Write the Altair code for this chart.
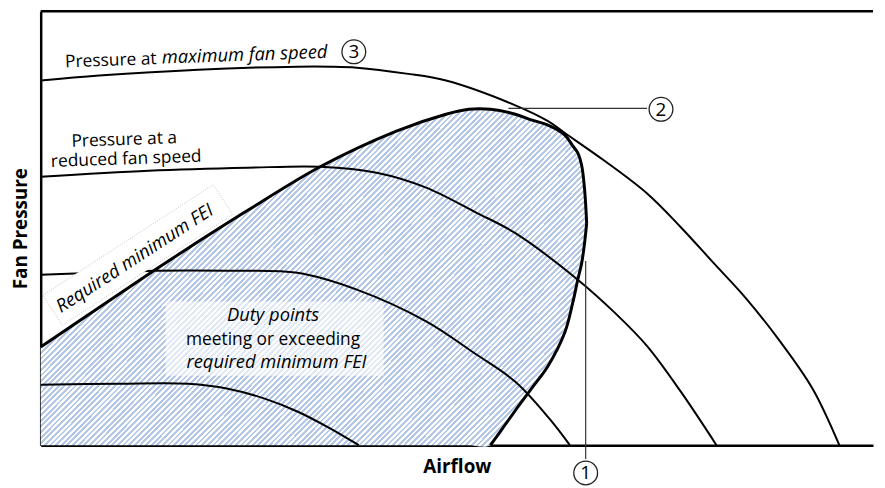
import math
import altair as alt
import pandas as pd

# ---------------- data (plot units: 1 unit = 1 px of the plot area) ----------------
# Fan curves
max_x = [0, 59, 159, 259, 292, 319, 369, 409, 479, 512, 529, 569, 612, 646, 679, 712, 746, 779, 806]
max_y = [368, 373, 379, 382, 382, 381, 375, 368, 343, 327, 315, 287, 254, 220, 184, 148, 105, 57, 0]

red_x = [0, 109, 209, 282, 339, 389, 439, 479, 542, 579, 612, 646, 682]
red_y = [271, 277, 280, 281, 275, 260, 235, 214, 167, 134, 100, 54, 0]

low_x = [0, 59, 114, 189, 259, 319, 389, 439, 479, 514, 534]
low_y = [172, 174, 176, 176, 174, 157, 125, 92, 64, 26, 0]

min_x = [0, 79, 149, 189, 226, 259, 292, 321]
min_y = [61, 62, 62, 57, 47, 34, 17, 0]

# Required-minimum-FEI region (upper boundary and lower boundary at the same airflow)
area_x = [0, 59, 114, 146, 209, 282, 359, 409, 432, 454, 479, 496, 512, 529, 537, 542, 546, 549, 551]
area_top = [99, 139, 176, 197, 237, 281, 317, 334, 339, 339, 334, 328, 323, 313, 302, 295, 282, 257, 224]
area_bot = [0, 0, 0, 0, 0, 0, 0, 0, 0, 0, 35, 58, 80, 114, 144, 167, 184, 205, 224]
LOWER_START = 9  # index where the lower boundary leaves the airflow axis

# Text annotations
lab_text = ["Pressure at", "maximum fan speed", "Pressure at a", "reduced fan speed",
            "Required minimum FEI", "Duty points", "meeting or exceeding", "required minimum FEI"]
lab_x = [71, 206, 84.5, 86.5, 98, 234.5, 234.5, 238]
lab_y = [383, 388, 303, 283.5, 183.5, 125.3, 101, 78]
lab_angle = [358, 358, 358, 358, 327, 0, 0, 0]
lab_italic = [False, True, False, False, True, True, False, True]

# Label boxes
fei_box_x = [98]
fei_box_y = [192]
fei_box_angle = [327]
duty_box_x = [126]
duty_box_x2 = [346]
duty_box_y = [70]
duty_box_y2 = [145]

# Callouts
call_label = ["3", "2", "1"]
call_x = [316, 626, 550]
call_y = [397, 339, -28]
lead_x = [472, 550]
lead_x2 = [612, 550]
lead_y = [340, 186]
lead_y2 = [340, -14]

W_PLOT, H_PLOT = 840, 438
FONT = "Open Sans"
CURVE = "catmull-rom"

# ---------------- scales / axes ----------------
xscale = alt.Scale(domain=[0, W_PLOT], nice=False, zero=False)
yscale = alt.Scale(domain=[0, H_PLOT], nice=False, zero=False)
common_axis = dict(labels=False, ticks=False, grid=False, domainColor="black", domainWidth=2.5,
                   titleFont=FONT, titleFontSize=19, titleFontWeight="bold", titleColor="black")
xaxis = alt.Axis(title="Airflow", titlePadding=13, **common_axis)
yaxis = alt.Axis(title="Fan Pressure", titlePadding=10, **common_axis)


def X(f):
    return alt.X(f"{f}:Q", scale=xscale, axis=xaxis)


def Y(f):
    return alt.Y(f"{f}:Q", scale=yscale, axis=yaxis)


# ---------------- hatch fill as a striped gradient ----------------
W_bb = max(area_x) - min(area_x)
H_bb = max(area_top)
r = H_bb / W_bb
s = (1 + r) / (1 + r * r)
period_px = 4.0
n_per = int(round((W_bb + H_bb) / math.sqrt(2) / period_px))
blue, white = "#b4c7e7", "#ffffff"
stops = []
for i in range(n_per):
    a = i / n_per
    b = (i + 0.5) / n_per
    c = (i + 1) / n_per
    stops += [{"color": blue, "offset": a}, {"color": blue, "offset": b},
              {"color": white, "offset": b}, {"color": white, "offset": c}]
hatch = {"gradient": "linear", "stops": stops, "x1": 0, "y1": 0, "x2": s, "y2": s * r}

# ---------------- layers ----------------
area_df = pd.DataFrame({"x": area_x, "y": area_top, "y2": area_bot})
area = alt.Chart(area_df).mark_area(fill=hatch, opacity=1, interpolate=CURVE).encode(
    x=X("x"), y=Y("y"), y2="y2")

duty_df = pd.DataFrame({"x": duty_box_x, "x2": duty_box_x2, "y": duty_box_y, "y2": duty_box_y2})
duty_box = alt.Chart(duty_df).mark_rect(color="white", opacity=0.6).encode(
    x=X("x"), x2="x2", y=Y("y"), y2="y2")

curves = []
for name, xs, ys in [("max", max_x, max_y), ("reduced", red_x, red_y),
                     ("low", low_x, low_y), ("min", min_x, min_y)]:
    curves += [{"series": name, "x": a, "y": b} for a, b in zip(xs, ys)]
curve_df = pd.DataFrame(curves)
fan = alt.Chart(curve_df).mark_line(color="black", strokeWidth=2, interpolate=CURVE).encode(
    x=X("x"), y=Y("y"), detail="series:N")

box_path = "M -1 -0.1756 L 1 -0.1756 L 1 0.1756 L -1 0.1756 Z"
fei_df = pd.DataFrame({"x": fei_box_x, "y": fei_box_y, "a": fei_box_angle})
fei_box = alt.Chart(fei_df).mark_point(shape=box_path, size=205 * 205, filled=True, fill="white",
                                       fillOpacity=1, opacity=1, stroke="#bdbdbd", strokeWidth=0.8,
                                       strokeDash=[1, 1.5]).encode(
    x=X("x"), y=Y("y"), angle=alt.Angle("a:Q", scale=None))

bound = [{"part": "upper", "x": a, "y": b} for a, b in zip(area_x, area_top)]
bound += [{"part": "lower", "x": a, "y": b} for a, b in zip(area_x[LOWER_START:], area_bot[LOWER_START:])]
bound_df = pd.DataFrame(bound)
boundary = alt.Chart(bound_df).mark_line(color="black", strokeWidth=3, interpolate=CURVE).encode(
    x=X("x"), y=Y("y"), detail="part:N")

frame_df = pd.DataFrame({"x": [0], "x2": [W_PLOT], "y": [H_PLOT]})
top_rule = alt.Chart(frame_df).mark_rule(color="black", strokeWidth=2.5).encode(
    x=X("x"), x2="x2", y=Y("y"))

lead_df = pd.DataFrame({"x": lead_x, "x2": lead_x2, "y": lead_y, "y2": lead_y2})
leaders = alt.Chart(lead_df).mark_rule(color="#333333", strokeWidth=1.2).encode(
    x=X("x"), x2="x2", y=Y("y"), y2="y2")

call_df = pd.DataFrame({"x": call_x, "y": call_y, "label": call_label})
circles = alt.Chart(call_df).mark_point(shape="circle", size=575, filled=True, fill="white",
                                        fillOpacity=1, opacity=1, stroke="#222222",
                                        strokeWidth=1.3).encode(x=X("x"), y=Y("y"))
nums = alt.Chart(call_df).mark_text(font=FONT, fontSize=19, color="black", baseline="middle",
                                    align="center", dy=0.5).encode(x=X("x"), y=Y("y"), text="label:N")

lab_df = pd.DataFrame({"x": lab_x, "y": lab_y, "t": lab_text, "a": lab_angle, "it": lab_italic})
text_layers = []
for italic in (False, True):
    sub = lab_df[lab_df["it"] == italic]
    text_layers.append(
        alt.Chart(sub).mark_text(font=FONT, fontSize=18.5 if italic else 17.5, color="black",
                                 align="center", baseline="alphabetic",
                                 fontStyle="italic" if italic else "normal").encode(
            x=X("x"), y=Y("y"), text="t:N", angle=alt.Angle("a:Q", scale=None)))

chart = alt.layer(area, duty_box, fan, fei_box, boundary, top_rule, leaders, circles, nums,
                  *text_layers).properties(
    width=W_PLOT, height=H_PLOT,
    autosize=alt.AutoSizeParams(type="none"),
    padding={"left": 33, "top": 1, "right": 4, "bottom": 41},
    background="white",
).configure_view(stroke=None)

chart.save("out.html", embed_options={"renderer": "svg", "actions": False})
